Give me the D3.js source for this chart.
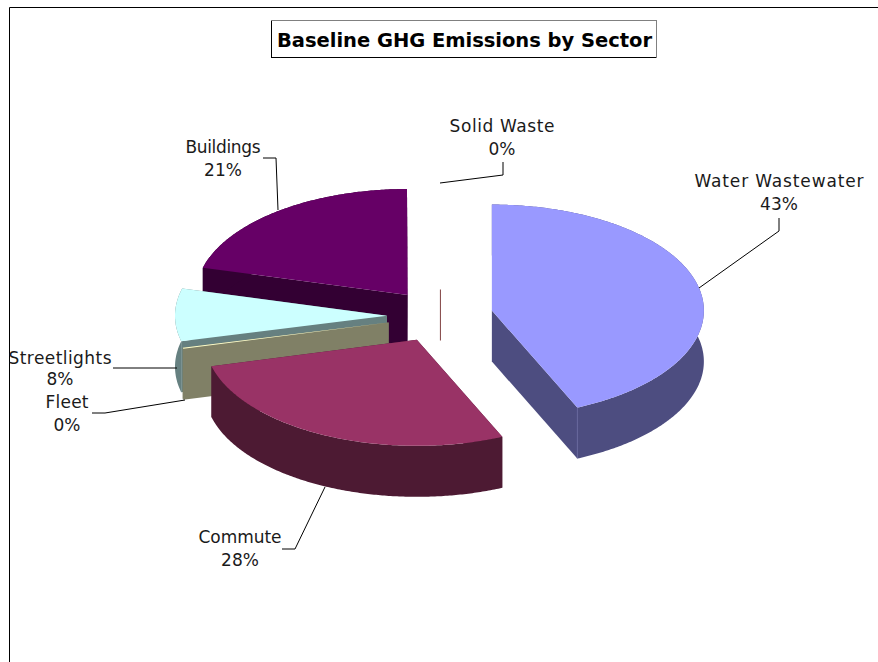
<!DOCTYPE html>
<html>
<head>
<meta charset="utf-8">
<script src="https://cdn.jsdelivr.net/npm/d3@7"></script>
<style>
html,body{margin:0;padding:0;background:#fff;overflow:hidden}
svg{display:block}
text{font-family:"DejaVu Sans",Verdana,sans-serif;fill:#1a1a1a}
</style>
</head>
<body>
<svg id="c" width="878" height="662"></svg>
<script>
const sectors = ["Water Wastewater","Commute","Fleet","Streetlights","Buildings","Solid Waste"];
const shares = [43.4, 27.6, 0.15, 8, 20.8, 0.05];
const topColors = ["#9999FF","#993366","#FFFFCC","#CCFFFF","#660066","#FF8080"];
const sideColors = ["#4D4D80","#4D1A33","#808066","#668080","#330033","#804040"];
const chartTitle = "Baseline GHG Emissions by Sector";

// Label centres, widths and leader polylines, indexed like sectors
const labelPos = [[779,187],[240,543],[67,408],[60,364],[223,153],[502,132]];
const labelWidth = [169,83,43,103,75,105];
const leaders = [
  [[699,288],[779,231],[779,218]],
  [[325,487],[295,549],[282,549]],
  [[185,400],[105,413],[92,413]],
  [[177,368],[113,368]],
  [[278,210],[276,158],[263,158]],
  [[440,183],[503,175],[503,162]]
];
const paintOrder = [4,3,2,5,1,0];

const geom = {cx:440, cy:316, rx:212, ry:106, depth:51, explode:53};

const svg = d3.select("#c");

// frame
svg.append("path").attr("d","M9.5,662V7.5H878").attr("fill","none").attr("stroke","#000").attr("stroke-width",1);

// pie layout
const arcs = d3.pie().sort(null).value(d=>d)(shares);
const total = d3.sum(shares);

// projection onto the tilted plane: x from sine, y from cosine
const px = d3.scaleLinear().domain([-1,1]).range([-geom.rx,geom.rx]);
const py = d3.scaleLinear().domain([-1,1]).range([-geom.ry,geom.ry]);
const line = d3.line();

function project(a, o, dz){
  return [o[0]+px(Math.sin(a)), o[1]+py(-Math.cos(a))+(dz||0)];
}
function rimAngles(a0,a1){
  const n = Math.max(2, Math.ceil((a1-a0)/0.01));
  return d3.range(n+1).map(i=>a0+(a1-a0)*i/n);
}

const g = svg.append("g");
paintOrder.forEach(i=>{
  const s = arcs[i];
  const mid = (s.startAngle+s.endAngle)/2;
  const ox = geom.cx + geom.explode*Math.sin(mid);
  const oy = geom.cy - geom.explode*(geom.ry/geom.rx)*Math.cos(mid);
  const o = [ox,oy];
  const angs = rimAngles(s.startAngle,s.endAngle);
  const top = [o].concat(angs.map(a=>project(a,o)));
  const cg = g.append("g").attr("class","slice");
  const A = project(s.startAngle,o), B = project(s.endAngle,o);
  const D = geom.depth;
  const quad = (p,q)=>[p,q,[q[0],q[1]+D],[p[0],p[1]+D]];
  const sideC = sideColors[i];
  if(sectors[i]==="Solid Waste"){
    cg.append("line").attr("x1",ox+0.5).attr("x2",ox+0.5).attr("y1",oy).attr("y2",oy+D)
      .attr("stroke",sideC).attr("stroke-width",1);
    return;
  }
  cg.append("path").attr("d",line(quad(o,A))+"Z").attr("fill",sideC);
  cg.append("path").attr("d",line(quad(o,B))+"Z").attr("fill",sideC);
  const rimPts = angs.map(a=>project(a,o)).concat(angs.slice().reverse().map(a=>project(a,o,D)));
  cg.append("path").attr("d",line(rimPts)+"Z").attr("fill",sideC);
  if(sectors[i]==="Water Wastewater"){
    cg.append("line").attr("x1",B[0]).attr("x2",B[0]).attr("y1",B[1]).attr("y2",B[1]+D)
      .attr("stroke",d3.color(sideC).brighter(0.5)).attr("stroke-width",0.7);
  }
  cg.append("path").attr("d",line(top)+"Z").attr("fill",topColors[i]);
});

// leaders
svg.append("g").selectAll("path").data(leaders).join("path")
  .attr("d",d=>line(d)).attr("fill","none").attr("stroke","#000").attr("stroke-width",1);

// labels
const pct = d3.format(".0%");
const labels = svg.append("g").attr("font-size",17).attr("text-anchor","middle");
sectors.forEach((name,i)=>{
  const p = labelPos[i];
  const gap = (i===3)?21:23;
  labels.append("text").attr("x",p[0]).attr("y",p[1])
    .attr("textLength",labelWidth[i]).attr("lengthAdjust","spacing").text(name);
  labels.append("text").attr("x",p[0]).attr("y",p[1]+gap).text(pct(shares[i]/total));
});

// title box
svg.append("rect").attr("x",271.5).attr("y",20.5).attr("width",385).attr("height",37)
  .attr("fill","#fff").attr("stroke","#000");
svg.append("path").attr("d","M271,20.5H657M656.5,20V58").attr("stroke","#808080").attr("fill","none");
svg.append("text").attr("x",464.5).attr("y",47).attr("text-anchor","middle")
  .attr("font-size",19.5).attr("font-weight","bold").style("fill","#000")
  .attr("textLength",375).attr("lengthAdjust","spacing").text(chartTitle);
</script>
</body>
</html>
